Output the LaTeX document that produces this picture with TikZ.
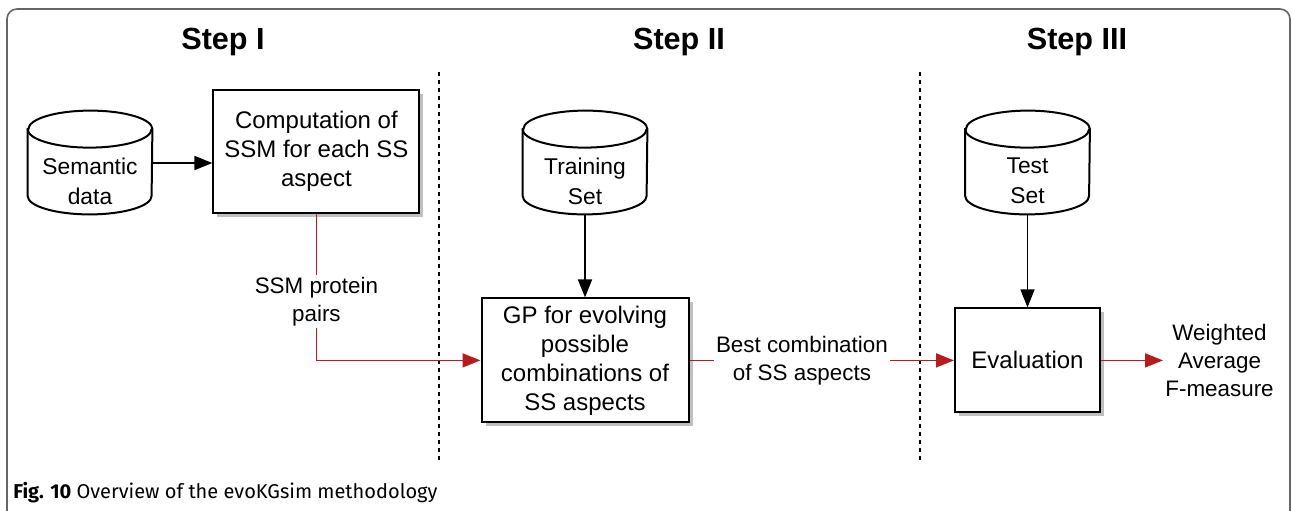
\documentclass[tikz,border=0pt]{standalone}
\usepackage{fontspec}
\setmainfont{Liberation Sans}
\newfontfamily\capfont{Fira Sans}
\usepackage{xcolor}
\usetikzlibrary{arrows.meta,positioning,shadows,backgrounds}
\definecolor{flowred}{RGB}{183,28,28}
\begin{document}
\begin{tikzpicture}[x=0.5pt, y=-0.5pt,
  shd/.style={general shadow={fill=black!25, shadow xshift=2pt, shadow yshift=-2pt}},
  blk/.style={draw, line width=1pt, fill=white, align=center, inner sep=2pt, shd,
    font=\fontsize{12}{14.5}\selectfont},
  db/.style={align=center, minimum width=62pt, minimum height=33pt, inner sep=1pt,
    font=\fontsize{11.4}{15}\selectfont},
  lbl/.style={fill=white, align=center, inner sep=1pt, font=\fontsize{11.2}{14}\selectfont},
  blkarr/.style={-{Triangle[length=9pt,width=7pt]}, line width=0.8pt},
  redarr/.style={blkarr, draw=flowred},
  sep/.style={line width=1pt, dash pattern=on 2pt off 2pt},
  title/.style={font=\bfseries\fontsize{15.3}{18}\selectfont}]
\useasboundingbox (0,0) rectangle (1292,510);
\draw[black!60, line width=0.8pt, rounded corners=5pt] (7,9) rectangle (1290,560);
% step titles and separators
\node[title] (st1) at (223,42) {Step I};
\node[title] (st2) at (679,42) {Step II};
\node[title] (st3) at (1077,42) {Step III};
\foreach \x in {439,920} \draw[sep] (\x,72) -- (\x,462);
% step I
\node[db] (sem) at (90,181) {Semantic\\data};
\node[blk, minimum width=103pt, minimum height=61.5pt, right=30pt of sem, yshift=14.75pt] (comp) {Computation of\\SSM for each SS\\aspect};
% step II
\node[db] (train) at (585,181) {Training\\Set};
\node[blk, minimum width=103.5pt, minimum height=62pt, below=41.5pt of train] (gp) {GP for evolving\\possible\\combinations of\\SS aspects};
% step III
\node[db] (test) at (1027.5,181) {Test\\Set};
\node[blk, minimum width=72.5pt, minimum height=52pt, below=46.5pt of test] (eval) {Evaluation};
\node[lbl, right=31pt of eval] (wfm) {Weighted\\Average\\F-measure};
% database drums behind the texts
\begin{scope}[on background layer]
\foreach \n in {sem,train,test}{
  \fill[black!25, xshift=2pt, yshift=-2pt] ([yshift=9.25pt]\n.north west) -- ([yshift=9.25pt]\n.south west)
    arc[start angle=180, end angle=360, x radius=31pt, y radius=9.25pt] -- ([yshift=9.25pt]\n.north east)
    arc[start angle=0, end angle=180, x radius=31pt, y radius=9.25pt] -- cycle;
  \filldraw[fill=white, line width=1pt] ([yshift=9.25pt]\n.north west) -- ([yshift=9.25pt]\n.south west)
    arc[start angle=180, end angle=360, x radius=31pt, y radius=9.25pt] -- ([yshift=9.25pt]\n.north east)
    arc[start angle=0, end angle=180, x radius=31pt, y radius=9.25pt] -- cycle;
  \draw[line width=1pt] ([yshift=9.25pt]\n.north west) arc[start angle=180, end angle=360, x radius=31pt, y radius=9.25pt];
}
\end{scope}
% connectors
\draw[blkarr] ([yshift=9pt]sem.east) -- ([yshift=9pt]sem.east -| comp.west);
\draw[blkarr] (train) -- (gp);
\draw[blkarr] (test) -- (eval);
\draw[redarr] (comp.south) |- node[lbl, pos=0.3] {SSM protein\\pairs} (gp.west);
\draw[redarr] (gp) -- node[lbl, pos=0.425] {Best combination\\of SS aspects} (eval);
\draw[redarr] (eval) -- (wfm);
\node[anchor=west, inner sep=0pt, font=\capfont\fontsize{10}{12}\selectfont] (cap) at (13,493) {\textbf{Fig. 10} Overview of the evoKGsim methodology};
\end{tikzpicture}
\end{document}
